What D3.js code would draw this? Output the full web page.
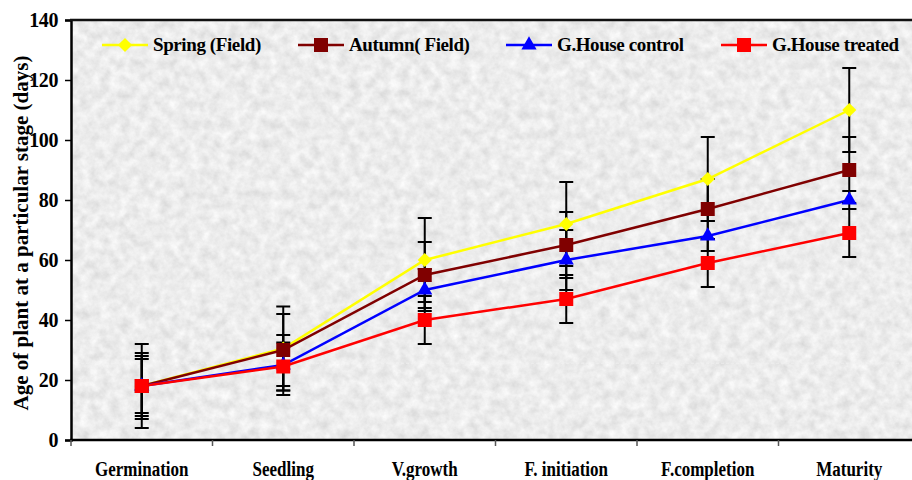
<!DOCTYPE html>
<html>
<head>
<meta charset="utf-8">
<script src="https://cdn.jsdelivr.net/npm/d3@7"></script>
<style>
  body { margin: 0; background: #fff; }
  svg { display: block; }
  text { font-family: "Liberation Serif", "Times New Roman", serif; font-weight: bold; fill: #000; }
</style>
</head>
<body>
<svg width="912" height="480"></svg>
<script>
// data
var categories = ["Germination", "Seedling", "V.growth", "F. initiation", "F.completion", "Maturity"];
var seriesNames = ["Spring (Field)", "Autumn( Field)", "G.House control", "G.House treated"];
var spring = [18, 30.5, 60, 72, 87, 110];
var autumn = [18, 30, 55, 65, 77, 90];
var ghControl = [18, 25, 50, 60, 68, 80];
var ghTreated = [18, 24.5, 40, 47, 59, 69];
var springErr = [14, 14, 14, 14, 14, 14];
var autumnErr = [11, 12, 11, 11, 10, 11];
var ghControlErr = [10, 10, 7, 10, 5, 3];
var ghTreatedErr = [9, 8, 8, 8, 8, 8];
var yTicks = [0, 20, 40, 60, 80, 100, 120, 140];

// presets
var svg = d3.select("svg");
var plotLeft = 71, plotRight = 920, plotTop = 20, plotBottom = 440;

var x = d3.scaleBand().domain(categories).range([plotLeft, plotRight]);
var y = d3.scaleLinear().domain([0, 140]).range([plotBottom, plotTop]);

var diamond = {
  draw: function(ctx, size) {
    var r = Math.sqrt(size) / 2;
    ctx.moveTo(0, -r);
    ctx.lineTo(r, 0);
    ctx.lineTo(0, r);
    ctx.lineTo(-r, 0);
    ctx.closePath();
  }
};

var series = [
  { name: seriesNames[0], values: spring, err: springErr, color: "#ffff00", symbol: diamond, size: 200 },
  { name: seriesNames[1], values: autumn, err: autumnErr, color: "#800000", symbol: d3.symbolSquare, size: 196 },
  { name: seriesNames[2], values: ghControl, err: ghControlErr, color: "#0000ff", symbol: d3.symbolTriangle, size: 100 },
  { name: seriesNames[3], values: ghTreated, err: ghTreatedErr, color: "#ff0000", symbol: d3.symbolSquare, size: 196 }
];

// textured plot background
var defs = svg.append("defs");
var filter = defs.append("filter")
  .attr("id", "granite")
  .attr("filterUnits", "userSpaceOnUse")
  .attr("x", plotLeft).attr("y", plotTop)
  .attr("width", plotRight - plotLeft).attr("height", plotBottom - plotTop);
filter.append("feTurbulence")
  .attr("type", "fractalNoise")
  .attr("baseFrequency", "0.1")
  .attr("numOctaves", 4)
  .attr("seed", 7);
filter.append("feColorMatrix")
  .attr("type", "matrix")
  .attr("values", "0.34 0 0 0 0.67  0.34 0 0 0 0.67  0.34 0 0 0 0.67  0 0 0 0 1");

svg.append("rect")
  .attr("x", plotLeft).attr("y", plotTop)
  .attr("width", plotRight - plotLeft).attr("height", plotBottom - plotTop)
  .attr("fill", "#d6d6d6")
  .attr("filter", "url(#granite)");

// faint seam in the texture
svg.append("line")
  .attr("x1", plotLeft).attr("x2", plotRight)
  .attr("y1", y(25.6)).attr("y2", y(25.6))
  .attr("stroke", "#f2f2f2")
  .attr("stroke-width", 1)
  .attr("stroke-dasharray", "3,2")
  .attr("opacity", 0.8);

// y axis
var yAxis = svg.append("g")
  .attr("transform", "translate(" + plotLeft + ",0)")
  .call(d3.axisLeft(y).tickValues(yTicks).tickSize(6).tickPadding(7).tickFormat(d3.format("d")));
yAxis.select(".domain").attr("stroke", "#000").attr("stroke-width", 2.5);
yAxis.selectAll(".tick line").attr("stroke", "#000").attr("stroke-width", 1.5);
yAxis.selectAll(".tick text")
  .style("font-family", '"Liberation Serif", serif')
  .style("font-weight", "bold")
  .style("font-size", "20px")
  .style("letter-spacing", "-0.4px")
  .attr("fill", "#000");

// x axis
var xAxis = svg.append("g")
  .attr("transform", "translate(0," + plotBottom + ")")
  .call(d3.axisBottom(x).tickSize(0).tickPadding(21));
xAxis.select(".domain").remove();
xAxis.selectAll(".tick text")
  .attr("transform", "scale(0.83,1)")
  .style("font-family", '"Liberation Serif", serif')
  .style("font-weight", "bold")
  .style("font-size", "20.5px")
  .attr("fill", "#000");

svg.append("line")
  .attr("x1", plotLeft - 1).attr("x2", plotRight)
  .attr("y1", plotBottom).attr("y2", plotBottom)
  .attr("stroke", "#000").attr("stroke-width", 2.5);

svg.append("g").selectAll("line")
  .data(categories)
  .join("line")
  .attr("x1", function(d) { return x(d); })
  .attr("x2", function(d) { return x(d); })
  .attr("y1", plotBottom)
  .attr("y2", plotBottom + 6)
  .attr("stroke", "#555")
  .attr("stroke-width", 1.5);

// top border
svg.append("line")
  .attr("x1", plotLeft - 1).attr("x2", plotRight)
  .attr("y1", plotTop).attr("y2", plotTop)
  .attr("stroke", "#111").attr("stroke-width", 2.5);

// y title
svg.append("text")
  .attr("transform", "translate(28," + ((plotTop + plotBottom) / 2 + 3) + ") rotate(-90)")
  .attr("text-anchor", "middle")
  .style("font-size", "21px")
  .text("Age of plant at a particular stage (days)");

// lines
var cx = function(i) { return x(categories[i]) + x.bandwidth() / 2; };
var line = d3.line()
  .x(function(d, i) { return cx(i); })
  .y(function(d) { return y(d); });

svg.append("g").selectAll("path")
  .data(series)
  .join("path")
  .attr("d", function(s) { return line(s.values); })
  .attr("fill", "none")
  .attr("stroke", function(s) { return s.color; })
  .attr("stroke-width", 2.5);

// error bars
var errG = svg.append("g").attr("stroke", "#000").attr("stroke-width", 2);
series.forEach(function(s) {
  s.values.forEach(function(v, i) {
    var e = s.err[i];
    errG.append("line")
      .attr("x1", cx(i)).attr("x2", cx(i))
      .attr("y1", y(v + e)).attr("y2", y(v - e));
    [v + e, v - e].forEach(function(w) {
      errG.append("line")
        .attr("x1", cx(i) - 7).attr("x2", cx(i) + 7)
        .attr("y1", y(w)).attr("y2", y(w));
    });
  });
});

// markers
series.forEach(function(s) {
  svg.append("g").selectAll("path")
    .data(s.values)
    .join("path")
    .attr("transform", function(d, i) { return "translate(" + cx(i) + "," + y(d) + ")"; })
    .attr("d", d3.symbol().type(s.symbol).size(s.size))
    .attr("fill", s.color);
});

// legend
var legendX = [125, 321, 529, 744];
var legend = svg.append("g").selectAll("g")
  .data(series)
  .join("g")
  .attr("transform", function(d, i) { return "translate(" + legendX[i] + ",45)"; });
legend.append("line")
  .attr("x1", -23).attr("x2", 23)
  .attr("stroke", function(d) { return d.color; })
  .attr("stroke-width", 2.5);
legend.append("path")
  .attr("d", function(d) { return d3.symbol().type(d.symbol).size(d.size)(); })
  .attr("fill", function(d) { return d.color; });
legend.append("text")
  .attr("x", 28)
  .attr("y", 6)
  .style("font-size", "19px")
  .style("letter-spacing", "-0.4px")
  .text(function(d) { return d.name; });
</script>
</body>
</html>
